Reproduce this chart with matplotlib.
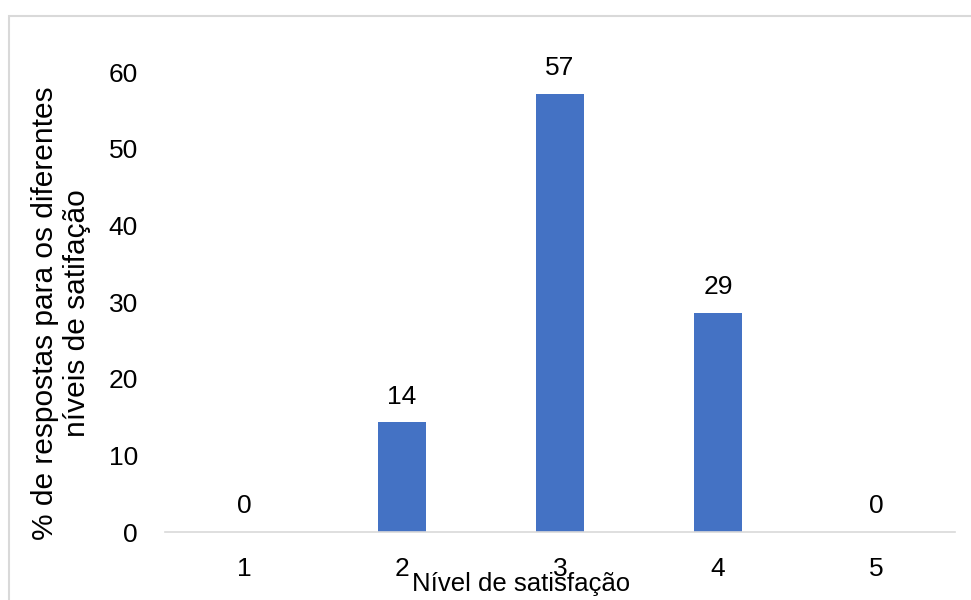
import numpy as np
import matplotlib
matplotlib.use("Agg")
import matplotlib.pyplot as plt
from matplotlib.patches import Rectangle

plt.rcParams['font.family'] = ['Liberation Sans', 'DejaVu Sans']

# dados do gráfico
niveis = ['1', '2', '3', '4', '5']
percentagens = [0, 14.29, 57.14, 28.57, 0]
rotulos = ['0', '14', '57', '29', '0']
y_ticks = [0, 10, 20, 30, 40, 50, 60]

fig = plt.figure(figsize=(9.71, 6.0), dpi=100)
ax = fig.add_axes([165/971, 1 - 532/600, (955 - 165)/971, (532 - 72)/600])

x = np.arange(len(niveis))
ax.bar(x, percentagens, width=0.31, color='#4472C4', zorder=2)

for xi, v, lab in zip(x, percentagens, rotulos):
    ax.annotate(lab, (xi, v), xytext=(0, 10), textcoords='offset points',
                ha='center', va='bottom', fontsize=19, color='#000000')

ax.set_xlim(-0.5, len(niveis) - 0.5)
ax.set_ylim(0, 60)
ax.set_xticks(x)
ax.set_xticklabels(niveis, fontsize=19)
ax.set_yticks(y_ticks)
ax.set_yticklabels([str(t) for t in y_ticks], fontsize=19)
ax.tick_params(axis='both', length=0)
ax.tick_params(axis='x', pad=18)
ax.tick_params(axis='y', pad=19.5)

for s in ['top', 'right', 'left']:
    ax.spines[s].set_visible(False)
ax.spines['bottom'].set_color('#D9D9D9')
ax.spines['bottom'].set_linewidth(1.2)

# títulos dos eixos
fig.text(521/971, 1 - 584/600, 'Nível de satisfação', ha='center', va='center', fontsize=18.5)
fig.text(61/971, 1 - 313/600, '% de respostas para os diferentes\nníveis de satifação',
         ha='center', va='center', rotation=90, fontsize=21.5, multialignment='center',
         linespacing=1.15)

# moldura
fig.patches.append(Rectangle((9/971, -0.1), 1.2, 1 - 16/600 + 0.1,
                             transform=fig.transFigure, fill=False,
                             edgecolor='#D9D9D9', linewidth=1.5))

fig.savefig('out.png', dpi=100)
